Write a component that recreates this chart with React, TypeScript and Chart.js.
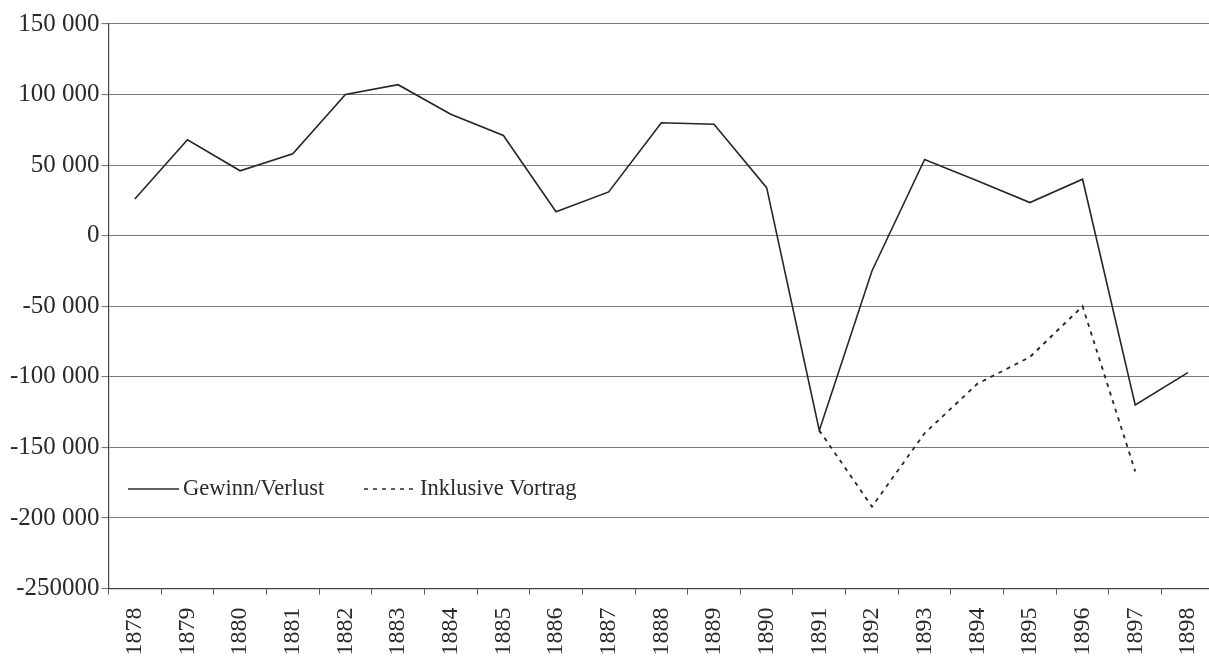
import React, { useEffect, useRef } from "react";
import { Chart, registerables } from "chart.js";

Chart.register(...registerables);

const years = [
  "1878", "1879", "1880", "1881", "1882", "1883", "1884", "1885", "1886", "1887",
  "1888", "1889", "1890", "1891", "1892", "1893", "1894", "1895", "1896", "1897", "1898",
];

const gewinnVerlust = [
  26000, 68000, 46000, 58000, 100000, 107000, 86000, 71000, 17000, 31000,
  80000, 79000, 34000, -138000, -25000, 54000, 39000, 23500, 40000, -120000, -97000,
];

const inklusiveVortrag = [
  null, null, null, null, null, null, null, null, null, null,
  null, null, null, -138000, -192000, -140000, -105000, -86000, -50000, -167000, null,
];

const legendLabels = ["Gewinn/Verlust", "Inklusive Vortrag"];

const FONT = "'Liberation Serif', 'Times New Roman', serif";

function formatTick(v: number): string {
  if (v === -250000) return "-250000";
  const sign = v < 0 ? "-" : "";
  const a = Math.abs(v);
  if (a === 0) return "0";
  const s = String(a);
  const out = s.replace(/\B(?=(\d{3})+(?!\d))/g, " ");
  return sign + out;
}

export default function App() {
  const ref = useRef<HTMLCanvasElement | null>(null);

  useEffect(() => {
    document.body.style.margin = "0";
    document.body.style.overflow = "hidden";
    const canvas = ref.current;
    if (!canvas) return;

    const legendPlugin = {
      id: "innerLegend",
      afterDraw(chart: any) {
        const ctx = chart.ctx;
        const y = 489;
        ctx.save();
        ctx.strokeStyle = "#2a2a2a";
        ctx.lineWidth = 1.5;
        ctx.setLineDash([]);
        ctx.beginPath();
        ctx.moveTo(128, y);
        ctx.lineTo(179, y);
        ctx.stroke();
        ctx.lineWidth = 1.6;
        ctx.setLineDash([4, 5]);
        ctx.beginPath();
        ctx.moveTo(364, y);
        ctx.lineTo(416, y);
        ctx.stroke();
        ctx.setLineDash([]);
        ctx.fillStyle = "#2a2a2a";
        ctx.font = `22.5px ${FONT}`;
        ctx.textBaseline = "middle";
        ctx.textAlign = "left";
        ctx.fillText(legendLabels[0], 183, y);
        ctx.fillText(legendLabels[1], 420, y);
        ctx.restore();
      },
    };

    const chart = new Chart(canvas, {
      type: "line",
      data: {
        labels: years,
        datasets: [
          {
            label: legendLabels[0],
            data: gewinnVerlust,
            borderColor: "#262626",
            borderWidth: 1.6,
            pointRadius: 0,
            tension: 0,
            fill: false,
          },
          {
            label: legendLabels[1],
            data: inklusiveVortrag as any,
            borderColor: "#262626",
            borderWidth: 1.8,
            borderDash: [4, 5],
            pointRadius: 0,
            tension: 0,
            fill: false,
            spanGaps: false,
          },
        ],
      },
      options: {
        animation: false,
        responsive: false,
        maintainAspectRatio: false,
        layout: { padding: { top: 24, right: 14, left: 0, bottom: 0 } },
        plugins: {
          legend: { display: false },
          tooltip: { enabled: false },
        },
        scales: {
          x: {
            offset: true,
            grid: {
              display: true,
              drawOnChartArea: false,
              drawTicks: true,
              tickLength: 6,
              color: "#555",
              offset: true,
            },
            border: { display: true, color: "#444", width: 1.2 },
            ticks: {
              color: "#2a2a2a",
              font: { family: FONT, size: 24 },
              minRotation: 90,
              maxRotation: 90,
              autoSkip: false,
              padding: 13,
            },
            afterFit(scale: any) {
              scale.height = 68.5;
            },
          },
          y: {
            min: -250000,
            max: 150000,
            grid: {
              color: "#7a7a7a",
              lineWidth: 1.1,
              tickLength: 7,
              drawTicks: true,
            },
            border: { display: true, color: "#444", width: 1.2 },
            ticks: {
              stepSize: 50000,
              color: "#2a2a2a",
              font: { family: FONT, size: 25 },
              padding: 2,
              callback: (v: any) => formatTick(Number(v)),
            },
            afterFit(scale: any) {
              scale.width = 108.5;
            },
          },
        },
      },
      plugins: [legendPlugin],
    });
    return () => chart.destroy();
  }, []);

  return (
    <div style={{ position: "fixed", left: 0, top: 0, width: 1230, height: 657, background: "#fff" }}>
      <canvas ref={ref} width={1230} height={657} style={{ display: "block", width: 1230, height: 657 }} />
    </div>
  );
}
